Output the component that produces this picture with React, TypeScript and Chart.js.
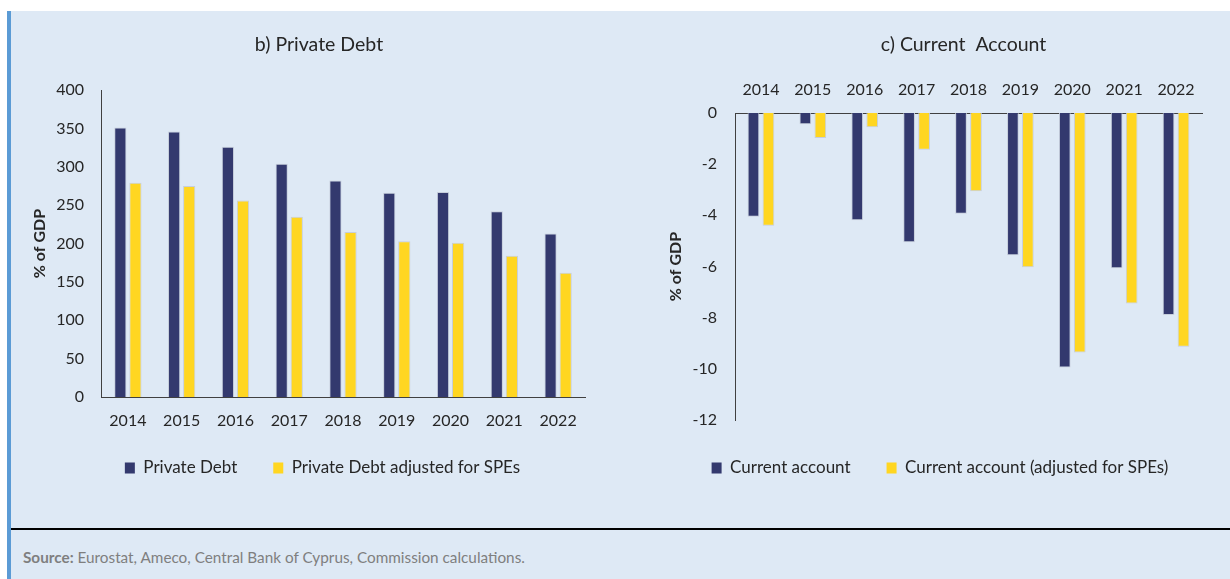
import React, { useEffect, useRef } from 'react';
import { Chart, registerables } from 'chart.js';

Chart.register(...registerables);

// ---------- data ----------
const years = ['2014', '2015', '2016', '2017', '2018', '2019', '2020', '2021', '2022'];
const privateDebt = [351, 346, 326, 304, 282, 266, 267, 242, 213];
const privateDebtAdjusted = [279, 275, 256, 235, 215, 203, 201, 184, 162];
const currentAccount = [-4.06, -0.44, -4.19, -5.05, -3.94, -5.56, -9.95, -6.07, -7.9];
const currentAccountAdjusted = [-4.41, -0.98, -0.56, -1.44, -3.06, -6.03, -9.36, -7.45, -9.14];

const debtTitle = 'b) Private Debt';
const caTitle = 'c) Current  Account';
const yAxisTitle = '% of GDP';
const debtLegend = ['Private Debt', 'Private Debt adjusted for SPEs'];
const caLegend = ['Current account', 'Current account (adjusted for SPEs)'];
const sourceLabel = 'Source:';
const sourceText = ' Eurostat, Ameco, Central Bank of Cyprus, Commission calculations.';

// ---------- styles ----------
const NAVY = '#33396e';
const YELLOW = '#ffd621';
const EDGE = '#c6cedb';
const TEXT = '#262626';
const AXIS = '#404040';
const BG = '#dee9f5';
const FONT = 'Lato, "Noto Sans", sans-serif';

const shiftPlugin = {
  id: 'shiftBoxes',
  afterLayout(chart: any, _args: any, opts: any) {
    const t = chart.titleBlock;
    if (t && opts.title) {
      t.left += opts.title;
      t.right += opts.title;
    }
    const l = chart.legend;
    if (l) {
      if (opts.legend) {
        l.left += opts.legend;
        l.right += opts.legend;
      }
      if (opts.legendY) {
        l.top += opts.legendY;
        l.bottom += opts.legendY;
      }
    }
  },
};

function legendLabels(chart: any) {
  return Chart.defaults.plugins.legend.labels
    .generateLabels(chart)
    .map((l: any) => ({ ...l, lineWidth: 0 }));
}

function DebtChart() {
  const ref = useRef<HTMLCanvasElement | null>(null);
  useEffect(() => {
    if (!ref.current) return;
    const chart = new Chart(ref.current, {
      type: 'bar',
      data: {
        labels: years,
        datasets: [
          {
            label: debtLegend[0],
            data: privateDebt,
            backgroundColor: NAVY,
            borderColor: EDGE,
            borderWidth: 1,
            categoryPercentage: 0.561,
            barPercentage: 0.81,
          },
          {
            label: debtLegend[1],
            data: privateDebtAdjusted,
            backgroundColor: YELLOW,
            borderColor: EDGE,
            borderWidth: 1,
            categoryPercentage: 0.561,
            barPercentage: 0.81,
          },
        ],
      },
      plugins: [shiftPlugin],
      options: {
        responsive: false,
        animation: false,
        layout: { padding: { left: 30, right: 30, top: 0, bottom: 6 } },
        plugins: {
          shiftBoxes: { title: 11.5, legend: 15, legendY: -7.5 },
          title: {
            display: true,
            text: debtTitle,
            color: TEXT,
            font: { family: FONT, size: 19.5, weight: 'normal' },
            padding: { top: 32.8, bottom: 33.8 },
          },
          legend: {
            position: 'bottom',
            labels: {
              color: TEXT,
              font: { family: FONT, size: 17 },
              boxWidth: 10,
              boxHeight: 11,
              padding: 36,
              generateLabels: legendLabels,
            },
          },
          tooltip: { enabled: false },
        },
        scales: {
          x: {
            grid: { display: false, drawTicks: false },
            border: { display: true, color: AXIS, width: 1 },
            ticks: { color: TEXT, font: { family: FONT, size: 16 }, padding: 14 },
            afterFit: (s: any) => {
              s.height = 34;
            },
          },
          y: {
            min: 0,
            max: 400,
            grid: { display: false, drawTicks: false },
            border: { display: true, color: AXIS, width: 1 },
            ticks: { stepSize: 50, color: TEXT, font: { family: FONT, size: 16 }, padding: 17 },
            title: {
              display: true,
              text: yAxisTitle,
              color: TEXT,
              font: { family: FONT, size: 16, weight: 'bold' },
              padding: 0,
            },
            afterFit: (s: any) => {
              s.width = 71;
            },
          },
        },
      },
    } as any);
    return () => chart.destroy();
  }, []);
  return (
    <canvas
      ref={ref}
      width={615}
      height={500}
      style={{ position: 'absolute', left: 0, top: 0, width: 615, height: 500 }}
    />
  );
}

function CurrentAccountChart() {
  const ref = useRef<HTMLCanvasElement | null>(null);
  useEffect(() => {
    if (!ref.current) return;
    const chart = new Chart(ref.current, {
      type: 'bar',
      data: {
        labels: years,
        datasets: [
          {
            label: caLegend[0],
            data: currentAccount,
            backgroundColor: NAVY,
            borderColor: EDGE,
            borderWidth: 1,
            categoryPercentage: 0.578,
            barPercentage: 0.78,
          },
          {
            label: caLegend[1],
            data: currentAccountAdjusted,
            backgroundColor: YELLOW,
            borderColor: EDGE,
            borderWidth: 1,
            categoryPercentage: 0.578,
            barPercentage: 0.78,
          },
        ],
      },
      plugins: [shiftPlugin],
      options: {
        responsive: false,
        animation: false,
        layout: { padding: { left: 51, right: 28, top: 0, bottom: 17 } },
        plugins: {
          shiftBoxes: { title: 29.5, legend: 6, legendY: 3.5 },
          title: {
            display: true,
            text: caTitle,
            color: TEXT,
            font: { family: FONT, size: 19.5, weight: 'normal' },
            padding: { top: 32.8, bottom: 16.8 },
          },
          legend: {
            position: 'bottom',
            labels: {
              color: TEXT,
              font: { family: FONT, size: 17 },
              boxWidth: 10,
              boxHeight: 11,
              padding: 36,
              generateLabels: legendLabels,
            },
          },
          tooltip: { enabled: false },
        },
        scales: {
          x: {
            position: 'top',
            grid: { display: false, drawTicks: false },
            border: { display: true, color: AXIS, width: 1 },
            ticks: { color: TEXT, font: { family: FONT, size: 16 }, padding: 14 },
            afterFit: (s: any) => {
              s.height = 40;
            },
          },
          y: {
            min: -12,
            max: 0,
            grid: { display: false, drawTicks: false },
            border: { display: true, color: AXIS, width: 1 },
            ticks: { stepSize: 2, color: TEXT, font: { family: FONT, size: 16 }, padding: 18 },
            title: {
              display: true,
              text: yAxisTitle,
              color: TEXT,
              font: { family: FONT, size: 16, weight: 'bold' },
              padding: 0,
            },
            afterFit: (s: any) => {
              s.width = 69;
            },
          },
        },
      },
    } as any);
    return () => chart.destroy();
  }, []);
  return (
    <canvas
      ref={ref}
      width={615}
      height={500}
      style={{ position: 'absolute', left: 615, top: 0, width: 615, height: 500 }}
    />
  );
}

export default function App() {
  return (
    <div
      style={{
        position: 'fixed',
        left: 0,
        top: 0,
        width: 1230,
        height: 579,
        background: '#ffffff',
        overflow: 'hidden',
      }}
    >
      <div style={{ position: 'absolute', left: 7, top: 11, width: 4, height: 568, background: '#5b9bd5' }} />
      <div style={{ position: 'absolute', left: 11, top: 11, width: 1219, height: 568, background: BG }} />
      <div style={{ position: 'absolute', left: 11, top: 528, width: 1219, height: 2, background: '#000000' }} />
      <div
        style={{
          position: 'absolute',
          left: 23,
          top: 548,
          fontFamily: FONT,
          fontSize: 15.3,
          lineHeight: '18px',
          color: '#7f7f7f',
          whiteSpace: 'nowrap',
        }}
      >
        <span style={{ fontWeight: 'bold' }}>{sourceLabel}</span>
        {sourceText}
      </div>
      <DebtChart />
      <CurrentAccountChart />
    </div>
  );
}
